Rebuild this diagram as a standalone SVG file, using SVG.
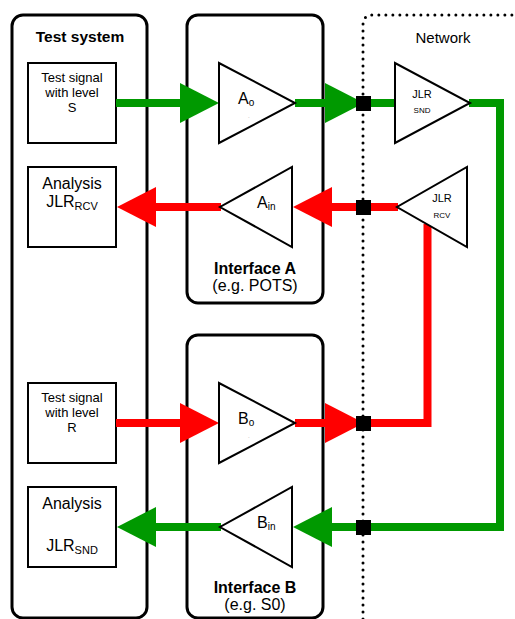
<svg xmlns="http://www.w3.org/2000/svg" width="515" height="619" viewBox="0 0 515 619">
<style>
text{font-family:"Liberation Sans",Arial,sans-serif;fill:#000}
.frame{fill:none;stroke:#000;stroke-width:3}
.box{fill:#fff;stroke:#000;stroke-width:2}
.tri{fill:#fff;stroke:#000;stroke-width:2;stroke-linejoin:miter}
.g{fill:none;stroke:#009900;stroke-width:8;stroke-linejoin:miter}
.r{fill:none;stroke:#ff0000;stroke-width:8;stroke-linejoin:miter}
.title{font-size:15.5px;font-weight:bold}
.small{font-size:13px}
.mid{font-size:16px}
.sq{fill:#000}
</style>
<defs>
<marker id="ag" markerUnits="userSpaceOnUse" markerWidth="40" markerHeight="42" viewBox="0 0 40 42" refX="0" refY="21" orient="auto"><path d="M0,1 L39,21 L0,41 Z" fill="#009900"/></marker>
<marker id="ar" markerUnits="userSpaceOnUse" markerWidth="40" markerHeight="42" viewBox="0 0 40 42" refX="0" refY="21" orient="auto"><path d="M0,1 L39,21 L0,41 Z" fill="#ff0000"/></marker>
</defs>

<g id="test-system">
<rect class="frame" x="12" y="15" width="135" height="603" rx="11"/>
<text class="title" x="80" y="42" text-anchor="middle">Test system</text>
</g>

<g id="network">
<path d="M363,619 V25 Q363,15 373,15 H515" fill="none" stroke="#000" stroke-width="3" stroke-linecap="round" stroke-dasharray="0 7"/>
<text x="443" y="43" text-anchor="middle" style="font-size:15px">Network</text>
</g>

<g id="interface-a">
<rect class="frame" x="187" y="15" width="136" height="288" rx="11"/>
<text class="title" x="255" y="274" text-anchor="middle" style="font-size:16px">Interface A</text>
<text x="255" y="291" text-anchor="middle" style="font-size:16px">(e.g. POTS)</text>
</g>

<g id="interface-b">
<rect class="frame" x="187" y="335" width="136" height="283" rx="11"/>
<text class="title" x="255" y="593" text-anchor="middle" style="font-size:16px">Interface B</text>
<text x="255" y="610" text-anchor="middle" style="font-size:16px">(e.g. S0)</text>
</g>

<g id="signal-s">
<rect class="box" x="28" y="63" width="88" height="80"/>
<text class="small" text-anchor="middle"><tspan x="72" y="82">Test signal</tspan><tspan x="72" y="97">with level</tspan><tspan x="72" y="112">S</tspan></text>
</g>

<g id="analysis-rcv">
<rect class="box" x="28" y="167" width="88" height="80"/>
<text class="mid" x="72" y="189" text-anchor="middle">Analysis</text>
<text class="mid" x="72" y="207" text-anchor="middle">JLR<tspan style="font-size:11px" dy="3">RCV</tspan></text>
</g>

<g id="signal-r">
<rect class="box" x="28" y="383" width="88" height="80"/>
<text class="small" text-anchor="middle"><tspan x="72" y="402">Test signal</tspan><tspan x="72" y="417">with level</tspan><tspan x="72" y="432">R</tspan></text>
</g>

<g id="analysis-snd">
<rect class="box" x="28" y="487" width="88" height="80"/>
<text class="mid" x="72" y="509" text-anchor="middle">Analysis</text>
<text class="mid" x="72" y="551" text-anchor="middle">JLR<tspan style="font-size:11px" dy="3">SND</tspan></text>
</g>

<g id="connectors">
<path class="g" d="M116,103 H180" marker-end="url(#ag)"/>
<path class="g" d="M295,103 H325" marker-end="url(#ag)"/>
<path class="g" d="M363,103 H396"/>
<path class="g" d="M469,103 H500 V527 H332" marker-end="url(#ag)"/>
<path class="g" d="M221,527 H156" marker-end="url(#ag)"/>
<path class="r" d="M398,207 H332" marker-end="url(#ar)"/>
<path class="r" d="M221,207 H156" marker-end="url(#ar)"/>
<path class="r" d="M116,423 H180" marker-end="url(#ar)"/>
<path class="r" d="M295,423 H325" marker-end="url(#ar)"/>
<path class="r" d="M363,423 H427.5 V224"/>
<rect class="sq" x="356" y="96" width="15" height="15"/>
<rect class="sq" x="356" y="200" width="15" height="15"/>
<rect class="sq" x="356" y="416" width="15" height="15"/>
<rect class="sq" x="356" y="520" width="15" height="15"/>
</g>

<g id="amp-ao">
<polygon class="tri" points="219,63 219,143 295,103"/>
<text x="238" y="104" style="font-size:16px">A<tspan style="font-size:10px" dy="2">o</tspan></text>
<text x="248" y="118" style="font-size:6px;fill:#999">.</text>
</g>

<g id="amp-ain">
<polygon class="tri" points="292,167 292,247 220,207"/>
<text x="257" y="208" style="font-size:16px">A<tspan style="font-size:10px" dy="2">in</tspan></text>
</g>

<g id="amp-bo">
<polygon class="tri" points="219,383 219,463 295,423"/>
<text x="238" y="424" style="font-size:16px">B<tspan style="font-size:10px" dy="2">o</tspan></text>
<text x="248" y="438" style="font-size:6px;fill:#999">.</text>
</g>

<g id="amp-bin">
<polygon class="tri" points="292,487 292,567 220,527"/>
<text x="257" y="528" style="font-size:16px">B<tspan style="font-size:10px" dy="2">in</tspan></text>
</g>

<g id="jlr-snd">
<polygon class="tri" points="395,63 395,143 470,103"/>
<text x="422" y="98" text-anchor="middle" style="font-size:11px">JLR</text>
<text x="422" y="113" text-anchor="middle" style="font-size:8px">SND</text>
</g>

<g id="jlr-rcv">
<polygon class="tri" points="467,167 467,247 397,207"/>
<text x="442" y="202" text-anchor="middle" style="font-size:11px">JLR</text>
<text x="442" y="218" text-anchor="middle" style="font-size:8px">RCV</text>
</g>
</svg>
